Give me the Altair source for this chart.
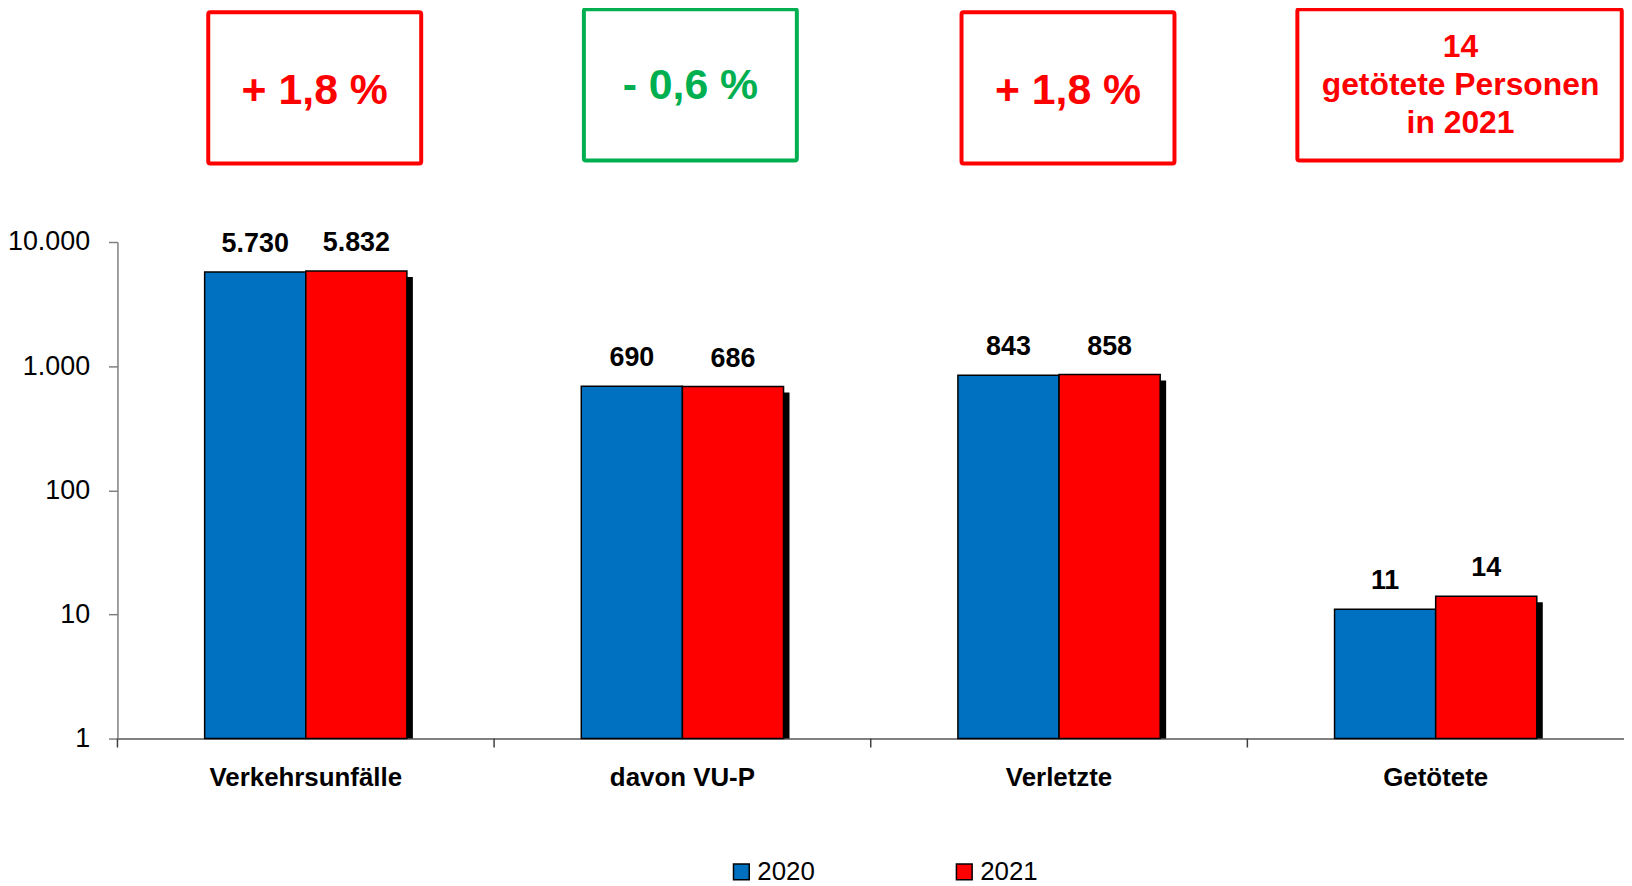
import altair as alt
import pandas as pd

# ---- data ----
categories = ["Verkehrsunfälle", "davon VU-P", "Verletzte", "Getötete"]
years = ["2020", "2021"]
values_2020 = [5730, 690, 843, 11]
values_2021 = [5832, 686, 858, 14]
series_colors = ["#0070C0", "#FF0000"]
box_texts = ["+ 1,8 %", "- 0,6 %", "+ 1,8 %", "14\ngetötete Personen\nin 2021"]
box_colors = ["#FF0000", "#00B050", "#FF0000", "#FF0000"]
y_ticks = [1, 10, 100, 1000, 10000]

rows = []
for c, a, b in zip(categories, values_2020, values_2021):
    rows.append({"cat": c, "year": years[0], "value": a})
    rows.append({"cat": c, "year": years[1], "value": b})
df = pd.DataFrame(rows)
boxes = pd.DataFrame({"cat": categories, "text": box_texts, "color": box_colors})
boxes_a = boxes.iloc[[0, 2]]
boxes_b = boxes.iloc[[1]]
boxes_big = boxes.iloc[[3]]
ticks_df = pd.DataFrame({"cat": categories})

FONT = "Liberation Sans, Arial, sans-serif"
GRAY = "#808080"
W, H = 1514, 499
P_IN = 0.463
P_OUT = P_IN / 2
STEP = W / len(categories)
BW = STEP * (1 - P_IN)
SH = 6  # shadow offset

xscale = alt.Scale(paddingInner=P_IN, paddingOuter=P_OUT)
xaxis = alt.Axis(title=None, labelAngle=0, ticks=False, tickSize=0,
                 labelFont=FONT, labelFontSize=26, labelFontWeight="bold",
                 labelColor="black", labelPadding=26, labelLimit=0,
                 domainColor=GRAY, domainWidth=2)
X = alt.X("cat:N", sort=categories, scale=xscale, axis=xaxis)

yscale = alt.Scale(type="log", domain=[1, 10000])
yaxis = alt.Axis(title=None, values=y_ticks, grid=False,
                 labelExpr="replace(format(datum.value, ','), ',', '.')",
                 labelFont=FONT, labelFontSize=27, labelColor="black",
                 labelPadding=19, tickSize=9, tickColor=GRAY, tickWidth=1.5,
                 domainColor=GRAY, domainWidth=1.5)
Y = alt.Y("value:Q", scale=yscale, axis=yaxis)
Y2 = alt.datum(1)
XO = alt.XOffset("year:N", sort=years)

# drop shadow of the right-hand (2021) bar of every group
shadow = alt.Chart(df).transform_filter(
    alt.datum.year == years[1]
).mark_bar(color="black", width=BW / 2, xOffset=BW / 4 + SH,
           yOffset=SH, y2Offset=0).encode(x=X, y=Y, y2=Y2)

bars = alt.Chart(df).mark_bar(stroke="black", strokeWidth=1.5).encode(
    x=X, xOffset=XO, y=Y, y2=Y2,
    color=alt.Color("year:N", sort=years,
                    scale=alt.Scale(domain=years, range=series_colors),
                    legend=alt.Legend(title=None, orient="none", legendX=614, legendY=620,
                                      direction="horizontal", symbolType="square",
                                      symbolSize=250, symbolStrokeColor="black",
                                      symbolStrokeWidth=1.5, symbolOpacity=1,
                                      labelFont=FONT, labelFontSize=26,
                                      labelColor="black", labelOffset=3,
                                      columnPadding=137)),
)

labels = alt.Chart(df).transform_calculate(
    label="replace(format(datum.value, ','), ',', '.')"
).mark_text(font=FONT, fontSize=27, fontWeight="bold", color="black",
            baseline="alphabetic", dy=-20).encode(
    x=X, xOffset=XO, y=Y, text="label:N"
)

tick_rules = alt.Chart(ticks_df).mark_rule(
    color="#404040", strokeWidth=1.5, xOffset=-P_OUT * STEP
).encode(
    x=alt.X("cat:N", sort=categories, scale=xscale, axis=xaxis, bandPosition=0),
    y=alt.value(H), y2=alt.value(H + 9),
)


def small_box(data, top, bottom, text_y, dx):
    box = alt.Chart(data).mark_bar(
        width=214, xOffset=dx, fill="white", strokeWidth=4, cornerRadius=2
    ).encode(x=X, y=alt.value(top), y2=alt.value(bottom),
             stroke=alt.Stroke("color:N", scale=None))
    txt = alt.Chart(data).mark_text(
        font=FONT, fontSize=43, fontWeight="bold", baseline="middle", xOffset=dx
    ).encode(x=X, y=alt.value(text_y), text="text:N",
             color=alt.Color("color:N", scale=None))
    return box, txt


box_a, text_a = small_box(boxes_a, -231, -79, -152, 9)
box_b, text_b = small_box(boxes_b, -234, -82, -157, 8)

box_big = alt.Chart(boxes_big).mark_bar(
    width=326, xOffset=24, fill="white", strokeWidth=4, cornerRadius=2
).encode(x=X, y=alt.value(-234), y2=alt.value(-82),
         stroke=alt.Stroke("color:N", scale=None))

text_big = alt.Chart(boxes_big).mark_text(
    font=FONT, fontSize=32, fontWeight="bold", baseline="middle",
    lineBreak="\n", lineHeight=38, xOffset=25
).encode(x=X, y=alt.value(-196), text="text:N",
         color=alt.Color("color:N", scale=None))

chart = alt.layer(
    shadow, bars, labels, tick_rules, box_a, box_b, box_big, text_a, text_b, text_big
).properties(
    width=W, height=H,
    autosize=alt.AutoSizeParams(type="none"),
    padding={"left": 110, "top": 233, "right": 0, "bottom": 146},
).configure_view(stroke=None)

chart.save("out.html", embed_options={"renderer": "svg", "actions": False})
